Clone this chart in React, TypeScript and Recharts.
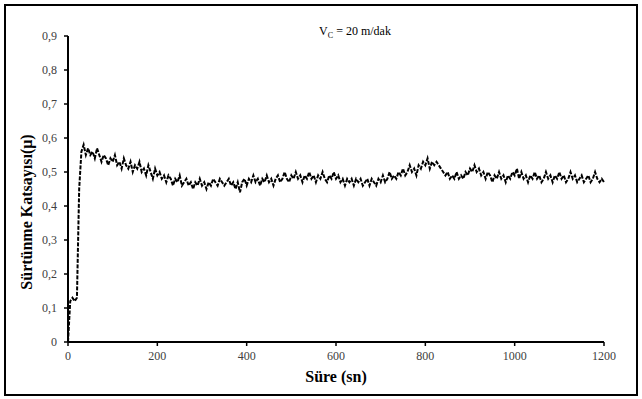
import { LineChart, Line, XAxis, YAxis } from "recharts"

// zaman (sn), her 5 sn'de bir okuma
const sure: number[] = Array.from({ length: 241 }, (_, i) => i * 5)

// sürtünme katsayısı
const mu: number[] = [
  0, 0.12, 0.13, 0.12, 0.13, 0.45, 0.56, 0.58, 0.55, 0.57,
  0.55, 0.56, 0.54, 0.57, 0.55, 0.53, 0.55, 0.54, 0.52, 0.54,
  0.53, 0.55, 0.52, 0.53, 0.51, 0.54, 0.52, 0.51, 0.53, 0.5,
  0.52, 0.51, 0.53, 0.5, 0.51, 0.49, 0.52, 0.5, 0.48, 0.51,
  0.49, 0.5, 0.48, 0.49, 0.47, 0.49, 0.48, 0.46, 0.48, 0.47,
  0.49, 0.46, 0.47, 0.48, 0.46, 0.47, 0.45, 0.47, 0.46, 0.48,
  0.46, 0.47, 0.45, 0.47, 0.46, 0.48, 0.47, 0.46, 0.48, 0.47,
  0.46, 0.47, 0.48, 0.46, 0.47, 0.45, 0.47, 0.44, 0.47, 0.48,
  0.46, 0.48, 0.47, 0.49, 0.47, 0.48, 0.46, 0.48, 0.47, 0.49,
  0.47, 0.48, 0.46, 0.48, 0.49, 0.47, 0.48, 0.5, 0.48, 0.47,
  0.49, 0.48, 0.5, 0.48, 0.49, 0.47, 0.49, 0.48, 0.5, 0.48,
  0.49, 0.47, 0.49, 0.48, 0.5, 0.48, 0.47, 0.49, 0.48, 0.5,
  0.48, 0.49, 0.47, 0.48, 0.46, 0.48, 0.47, 0.48, 0.46, 0.48,
  0.47, 0.48, 0.46, 0.47, 0.48, 0.46, 0.48, 0.47, 0.46, 0.48,
  0.47, 0.49, 0.47, 0.48, 0.5, 0.48, 0.49, 0.48, 0.5, 0.49,
  0.51, 0.49, 0.5, 0.52, 0.5, 0.51, 0.49, 0.52, 0.51, 0.53,
  0.52, 0.54, 0.51, 0.53, 0.52, 0.53, 0.52, 0.51, 0.5, 0.49,
  0.5, 0.48, 0.49, 0.48, 0.5, 0.48, 0.49, 0.48, 0.5, 0.49,
  0.51, 0.5, 0.52, 0.5, 0.51, 0.49, 0.5, 0.48, 0.5, 0.49,
  0.47, 0.49, 0.48, 0.5, 0.48, 0.49, 0.47, 0.49, 0.48, 0.5,
  0.49, 0.51, 0.48, 0.5, 0.48, 0.49, 0.47, 0.49, 0.48, 0.5,
  0.48, 0.49, 0.47, 0.48, 0.5, 0.48, 0.49, 0.47, 0.49, 0.48,
  0.5, 0.48, 0.49, 0.47, 0.48, 0.5, 0.48, 0.49, 0.47, 0.48,
  0.49, 0.47, 0.48, 0.49, 0.47, 0.48, 0.5, 0.48, 0.47, 0.48,
  0.47,
]

const xTicks = [0, 200, 400, 600, 800, 1000, 1200]
const yTicks = [0, 0.1, 0.2, 0.3, 0.4, 0.5, 0.6, 0.7, 0.8, 0.9]

const data = sure.map((t, i) => ({ t, mu: mu[i] }))

const serif = "'Liberation Serif', 'Times New Roman', serif"

const fmtY = (v: number) => (v === 0 ? "0" : v.toFixed(1).replace(".", ","))

function XTick(props: any) {
  const { x, y, payload } = props
  return (
    <text x={x} y={y + 12} textAnchor="middle" style={{ fontFamily: serif, fontSize: 12, fill: "#404040" }}>
      {payload.value}
    </text>
  )
}

function YTick(props: any) {
  const { x, y, payload } = props
  return (
    <text x={x - 5} y={y + 4} textAnchor="end" style={{ fontFamily: serif, fontSize: 12, fill: "#404040" }}>
      {fmtY(payload.value)}
    </text>
  )
}

export default function App() {
  return (
    <div
      style={{
        position: "absolute",
        left: 0,
        top: 0,
        width: 642,
        height: 399,
        background: "#fff",
        fontFamily: serif,
      }}
    >
      <LineChart
        width={642}
        height={399}
        data={data}
        margin={{ top: 36, right: 38, left: 0, bottom: 27 }}
        style={{ position: "absolute", left: 0, top: 0 }}
      >
        <XAxis
          dataKey="t"
          type="number"
          domain={[0, 1200]}
          ticks={xTicks}
          height={30}
          tick={<XTick />}
          tickSize={4}
          axisLine={{ stroke: "#000", strokeWidth: 2 }}
          tickLine={{ stroke: "#000", strokeWidth: 1.5 }}
        />
        <YAxis
          type="number"
          domain={[0, 0.9]}
          ticks={yTicks}
          width={68}
          tick={<YTick />}
          tickSize={4}
          axisLine={{ stroke: "#000", strokeWidth: 2 }}
          tickLine={{ stroke: "#000", strokeWidth: 1.5 }}
        />
        <Line
          dataKey="mu"
          type="linear"
          stroke="#000"
          strokeWidth={2}
          strokeDasharray="4 1.5"
          dot={false}
          isAnimationActive={false}
        />
      </LineChart>
      {/* çerçeve */}
      <div
        style={{
          position: "absolute",
          left: 4,
          top: 4,
          width: 630,
          height: 388,
          border: "2px solid #000",
          pointerEvents: "none",
        }}
      />
      {/* başlık */}
      <div
        style={{
          position: "absolute",
          left: 300,
          top: 24,
          width: 110,
          textAlign: "center",
          fontSize: 12,
          color: "#000",
          lineHeight: "14px",
        }}
      >
        V<sub style={{ fontSize: 8 }}>C</sub> = 20 m/dak
      </div>
      {/* x ekseni başlığı */}
      <div
        style={{
          position: "absolute",
          left: 236,
          top: 368,
          width: 200,
          textAlign: "center",
          fontSize: 16,
          fontWeight: "bold",
          color: "#000",
          lineHeight: "18px",
        }}
      >
        Süre (sn)
      </div>
      {/* y ekseni başlığı */}
      <div
        style={{
          position: "absolute",
          left: 27 - 110,
          top: 212 - 9,
          width: 220,
          textAlign: "center",
          fontSize: 16,
          fontWeight: "bold",
          color: "#000",
          lineHeight: "18px",
          transform: "rotate(-90deg)",
          whiteSpace: "nowrap",
        }}
      >
        Sürtünme Katsayısı(μ)
      </div>
    </div>
  )
}
